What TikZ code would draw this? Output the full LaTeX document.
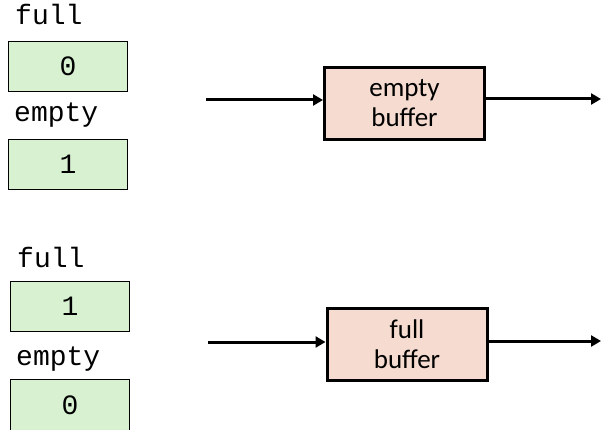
\documentclass[tikz,border=0pt]{standalone}
\usepackage{fontspec}
\setmainfont{Carlito}
\newfontfamily\monof{Liberation Mono}
\usetikzlibrary{arrows.meta}
\definecolor{boxgreen}{HTML}{D8F1D1}
\definecolor{boxpink}{HTML}{F6DCD0}
\tikzset{
  lbl/.style={anchor=base west, inner sep=0pt, font=\monof\fontsize{28}{30}\selectfont},
  valfont/.style={font=\monof\fontsize{28}{30}\selectfont},
  valbox/.style={draw=black, line width=1pt, fill=boxgreen, minimum width=119pt, minimum height=50pt, inner sep=0pt, anchor=north west, valfont},
  bufbox/.style={draw=black, line width=3pt, fill=boxpink, minimum width=160pt, minimum height=72pt, inner sep=0pt, align=center, font=\fontsize{27}{30}\selectfont},
  conn/.style={line width=3pt, -{Triangle[length=10pt,width=11pt]}}
}
\begin{document}
\begin{tikzpicture}[x=1pt,y=-1pt]
\useasboundingbox (0,0) rectangle (601,430);
\clip (0,0) rectangle (601,430);
% top
\node[lbl] (lf1) at (15,25) {full};
\node[valbox] (v1) at (8,41) {0};
\node[lbl] (le1) at (14,122) {empty};
\node[valbox] (v2) at (8,139) {1};
\node[bufbox] (b1) at (404.5,103.5) {empty\\buffer};
\coordinate (i1) at (206,100);
\coordinate (o1) at (601,99);
\draw[conn] (i1) -- (i1 -| b1.west);
\draw[conn] (b1.east |- o1) -- (o1);
% bottom
\node[lbl] (lf2) at (17,267) {full};
\node[valbox] (v3) at (10,281) {1};
\node[lbl] (le2) at (16,365) {empty};
\node[valbox, minimum height=60pt] (v4) at (10,379) {};
\node[valfont, inner sep=0pt] (v4t) at (70,405) {0};
\node[bufbox] (b2) at (407,344.5) {full\\buffer};
\coordinate (i2) at (208,342);
\coordinate (o2) at (601,341);
\draw[conn] (i2) -- (i2 -| b2.west);
\draw[conn] (b2.east |- o2) -- (o2);
\end{tikzpicture}
\end{document}
